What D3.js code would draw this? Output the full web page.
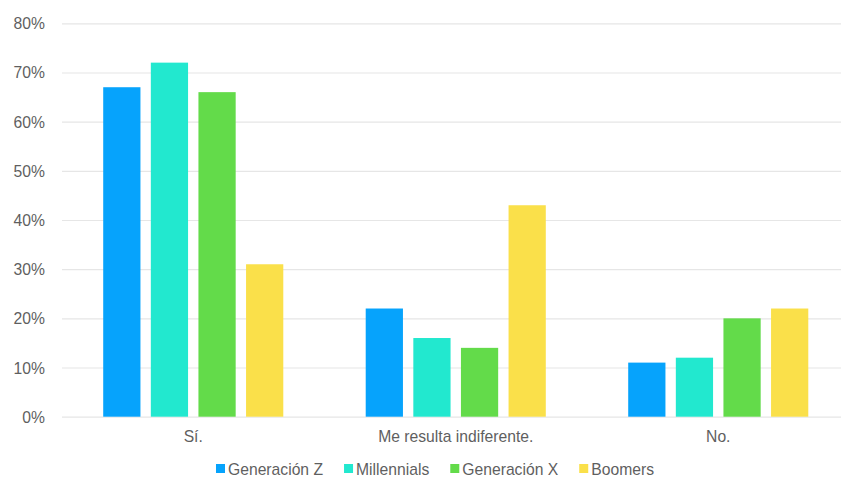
<!DOCTYPE html>
<html>
<head>
<meta charset="utf-8">
<script src="https://cdn.jsdelivr.net/npm/d3@7"></script>
<style>
  html, body { margin: 0; padding: 0; background: #fff; overflow: hidden; }
  svg { display: block; font-family: "Liberation Sans", Arial, Helvetica, sans-serif; }
</style>
</head>
<body>
<svg id="chart" width="841" height="484"></svg>
<script>
// Survey answers by generation (share of respondents, %)
const categories = ["Sí.", "Me resulta indiferente.", "No."];
const seriesNames = ["Generación Z", "Millennials", "Generación X", "Boomers"];
const genZ = [67, 22, 11];
const millennials = [72, 16, 12];
const genX = [66, 14, 20];
const boomers = [31, 43, 22];
const yTicks = [0, 10, 20, 30, 40, 50, 60, 70, 80];
const colors = ["#06a3fc", "#22e8cf", "#63db4a", "#fae04a"];

const seriesValues = [genZ, millennials, genX, boomers];
const rows = categories.map((c, i) => ({
  category: c,
  values: seriesNames.map((s, j) => ({ series: s, value: seriesValues[j][i] }))
}));

const fontSize = 15.7;
const textColor = "#5f5f5f";
const svg = d3.select("#chart");
const plotLeft = 62, plotRight = 849.5, plotTop = 23.3, plotBottom = 416.7;

const x0 = d3.scaleBand().domain(categories).range([plotLeft, plotRight]).padding(0);
const x1 = d3.scaleBand().domain(seriesNames)
  .range([x0.bandwidth() * 0.157, x0.bandwidth() * 0.843]).paddingInner(0.218);
const y = d3.scaleLinear().domain([0, 80]).range([plotBottom, plotTop]);

// Gridlines + y tick labels
const yAxis = d3.axisLeft(y).tickValues(yTicks).tickFormat(d => d + "%")
  .tickSize(-(plotRight - plotLeft)).tickPadding(16);
const gy = svg.append("g").attr("transform", `translate(${plotLeft},0)`).call(yAxis);
gy.select(".domain").remove();
gy.selectAll(".tick line").attr("stroke", "#e6e6e6").attr("stroke-width", 1.2);
gy.selectAll(".tick text").attr("fill", textColor).attr("font-size", fontSize)
  .attr("font-family", "'Liberation Sans', Arial, sans-serif")
  .attr("x", -17).attr("dy", "0.35em");

// Bars
const groups = svg.append("g").selectAll("g").data(rows).join("g")
  .attr("transform", d => `translate(${x0(d.category)},0)`);
groups.selectAll("rect").data(d => d.values).join("rect")
  .attr("x", d => x1(d.series))
  .attr("y", d => y(d.value))
  .attr("width", x1.bandwidth())
  .attr("height", d => y(0) - y(d.value))
  .attr("fill", (d, i) => colors[i]);

// Category labels
const xAxis = d3.axisBottom(x0).tickSize(0).tickPadding(14);
const gx = svg.append("g").attr("transform", `translate(0,${plotBottom})`).call(xAxis);
gx.select(".domain").remove();
gx.selectAll(".tick text").attr("fill", textColor).attr("font-size", fontSize)
  .attr("font-family", "'Liberation Sans', Arial, sans-serif");

// Legend, centred below the plot
const legend = svg.append("g").attr("font-size", fontSize);
const sw = 9, swGap = 3, itemGap = 21;
const items = legend.selectAll("g").data(seriesNames).join("g");
items.append("rect").attr("width", sw).attr("height", sw).attr("y", -sw / 2 - 0.5)
  .attr("fill", (d, i) => colors[i]);
items.append("text").attr("x", sw + swGap).attr("dy", "0.35em").attr("fill", textColor).text(d => d);
let cx = 0;
items.each(function () {
  const w = sw + swGap + this.querySelector("text").getComputedTextLength();
  d3.select(this).attr("transform", `translate(${cx},0)`);
  cx += w + itemGap;
});
const total = cx - itemGap;
legend.attr("transform", `translate(${(220 + 650) / 2 - total / 2},469)`);
</script>
</body>
</html>
